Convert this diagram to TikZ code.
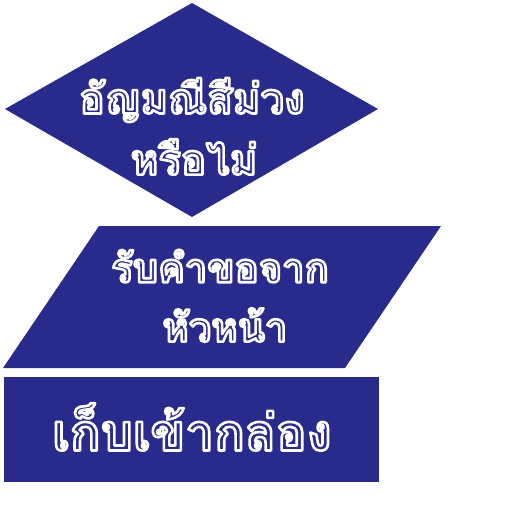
\documentclass[tikz,border=0pt]{standalone}
\usepackage{fontspec}
\newfontfamily\thaifont[Script=Thai]{Loma}
\definecolor{shapeblue}{RGB}{41,43,140}
\newcommand{\outl}[1]{\special{pdf:literal direct 1 j 2.6 w 1 Tr}#1\special{pdf:literal direct 0 Tr}}
\tikzset{
  shapefill/.style={fill=shapeblue, draw=none},
  label/.style={text=white, font=\thaifont\bfseries\fontsize{42}{56}\selectfont, align=center, inner sep=0pt},
  midlabel/.style={label, font=\thaifont\bfseries\fontsize{40}{56}\selectfont},
  biglabel/.style={label, font=\thaifont\bfseries\fontsize{51}{56}\selectfont}
}
\begin{document}
\begin{tikzpicture}[x=1pt,y=-1pt]
\useasboundingbox (0,0) rectangle (512,512);
% decision diamond
\coordinate (dL) at (5,109);
\coordinate (dT) at (192,3);
\coordinate (dR) at (378,109);
\coordinate (dB) at (192,217);
\fill[shapefill] (dL) -- (dT) -- (dR) -- (dB) -- cycle;
% input parallelogram
\coordinate (pTL) at (99,226);
\coordinate (pTR) at (441,226);
\coordinate (pBR) at (345,368);
\coordinate (pBL) at (3,368);
\fill[shapefill] (pTL) -- (pTR) -- (pBR) -- (pBL) -- cycle;
% process rectangle
\coordinate (rTL) at (4,377);
\coordinate (rBR) at (379,482);
\fill[shapefill] (rTL) rectangle (rBR);
% texts
\node[label] (q1) at (192,100) {\outl{อัญมณีสีม่วง}};
\node[label] (q2) at (194,157) {\outl{หรือไม่}};
\node[midlabel] (i1) at (220,266) {\outl{รับคำขอจาก}};
\node[midlabel] (i2) at (225,325) {\outl{หัวหน้า}};
\node[biglabel] (b1) at (192,427) {\outl{เก็บเข้ากล่อง}};
\end{tikzpicture}
\end{document}
